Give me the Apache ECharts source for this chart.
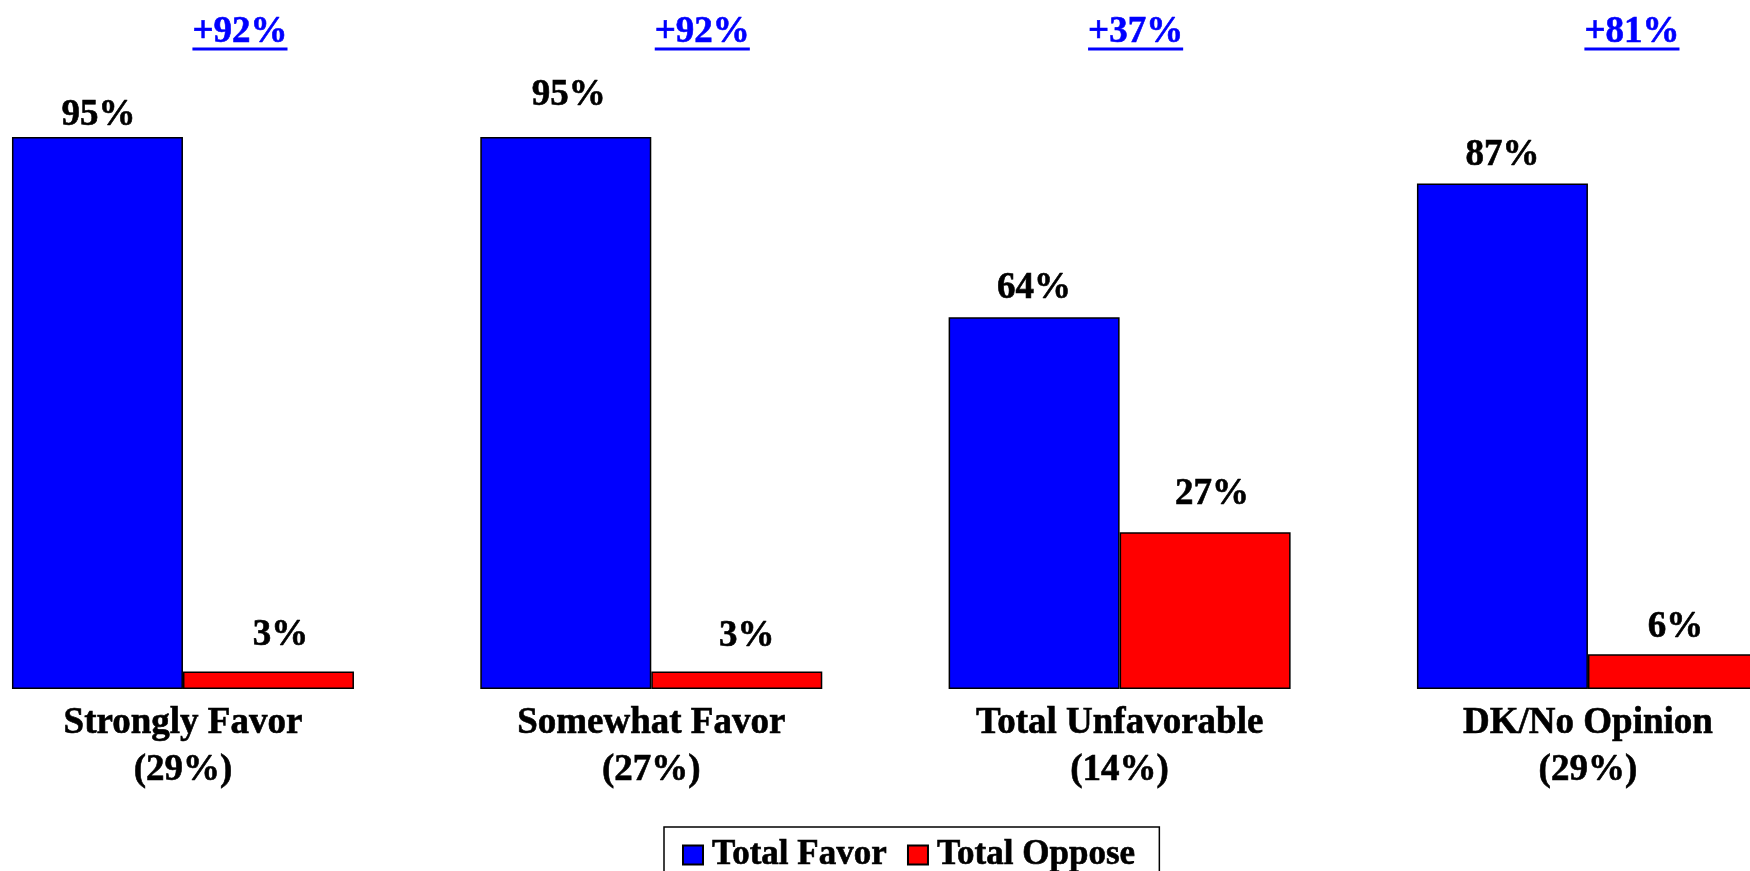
<!DOCTYPE html>
<html>
<head>
<meta charset="utf-8">
<title>Total Favor vs Total Oppose</title>
<script src="https://cdn.jsdelivr.net/npm/echarts@6/dist/echarts.min.js"></script>
<style>
  html, body { margin: 0; padding: 0; background: #ffffff; }
  #chart { width: 1750px; height: 871px; overflow: hidden; }
</style>
</head>
<body>
<div id="chart"></div>
<script>
// Survey groups and their share of respondents
const categories = ['Strongly Favor', 'Somewhat Favor', 'Total Unfavorable', 'DK/No Opinion'];
const groupShares = [29, 27, 14, 29];

// Percent favoring / opposing within each group
const totalFavor = [95, 95, 64, 87];
const totalOppose = [3, 3, 27, 6];

// Label placement tweaks (distance above bar, horizontal nudge)
const favorLabelDistance = [3, 23, 10, 9];
const favorLabelShift = [1, 3, 0, 0];
const opposeLabelDistance = [17, 16, 19, 8];
const opposeLabelShift = [12, 10, 7, 2];
// Horizontal nudge of the net-margin headline over each group
const netLabelShift = [57, 51, 16, 44];

const FONT = "'Liberation Serif', 'Times New Roman', serif";
const BLUE = '#0000FF';
const RED = '#FF0000';
const LABEL_SIZE = 37;

const netValues = totalFavor.map((v, i) => v - totalOppose[i]);
const netText = netValues.map(v => (v >= 0 ? '+' : '') + v + '%');

// Width of the headline text, used for its underline
const measureCtx = document.createElement('canvas').getContext('2d');
measureCtx.font = 'bold ' + LABEL_SIZE + 'px ' + FONT;

function barData(values, distances, shifts) {
  return values.map((v, i) => ({
    value: v,
    label: { distance: distances[i], offset: [shifts[i], 0] }
  }));
}

const labelStyle = {
  show: true,
  position: 'top',
  formatter: '{c}%',
  color: '#000000',
  fontFamily: FONT,
  fontWeight: 'bold',
  fontSize: LABEL_SIZE,
  lineHeight: 38,
  textBorderColor: '#000000',
  textBorderWidth: 0.6
};

const chart = echarts.init(document.getElementById('chart'), null, { renderer: 'canvas' });

chart.setOption({
  animation: false,
  backgroundColor: '#ffffff',
  grid: {
    left: -51.2,
    right: -72.1,
    top: 108,
    bottom: 182,
    containLabel: false,
    outerBoundsMode: 'none'
  },
  legend: {
    data: ['Total Favor', 'Total Oppose'],
    left: 664,
    top: 827,
    orient: 'horizontal',
    borderColor: '#000000',
    borderWidth: 1.5,
    padding: [9, 24, 6, 18],
    itemWidth: 20,
    itemHeight: 19,
    itemGap: 20,
    icon: 'rect',
    textStyle: {
      color: '#000000',
      fontFamily: FONT,
      fontWeight: 'bold',
      fontSize: 35,
      lineHeight: 38,
      padding: [0, 0, 0, 4],
      textBorderColor: '#000000',
      textBorderWidth: 0.6
    }
  },
  xAxis: {
    type: 'category',
    data: categories,
    axisLine: { show: false },
    axisTick: { show: false },
    splitLine: { show: false },
    axisLabel: {
      interval: 0,
      margin: 11,
      color: '#000000',
      fontFamily: FONT,
      fontWeight: 'bold',
      fontSize: LABEL_SIZE,
      lineHeight: 47,
      textBorderColor: '#000000',
      textBorderWidth: 0.6,
      formatter: (name, idx) => name + '\n(' + groupShares[idx] + '%)'
    }
  },
  yAxis: {
    type: 'value',
    min: 0,
    max: 100,
    show: false,
    splitLine: { show: false }
  },
  series: [
    {
      name: 'Total Favor',
      type: 'bar',
      barWidth: 171,
      barGap: '0%',
      data: barData(totalFavor, favorLabelDistance, favorLabelShift),
      itemStyle: { color: BLUE, borderColor: '#000000', borderWidth: 1.5 },
      label: labelStyle,
      emphasis: { disabled: true }
    },
    {
      name: 'Total Oppose',
      type: 'bar',
      barWidth: 171,
      barGap: '0%',
      data: barData(totalOppose, opposeLabelDistance, opposeLabelShift),
      itemStyle: { color: RED, borderColor: '#000000', borderWidth: 1.5 },
      label: labelStyle,
      emphasis: { disabled: true }
    },
    {
      // Net margin (favor minus oppose), underlined headline above each group
      name: 'Net',
      type: 'custom',
      clip: false,
      silent: true,
      data: netValues.map((v, i) => [i, 113]),
      renderItem: function (params, api) {
        const i = params.dataIndex;
        const pt = api.coord([api.value(0), api.value(1)]);
        const x = pt[0] + netLabelShift[i];
        const y = pt[1];
        const txt = netText[i];
        const w = measureCtx.measureText(txt).width;
        return {
          type: 'group',
          children: [
            {
              type: 'text',
              style: {
                x: x,
                y: y,
                text: txt,
                fill: BLUE,
                stroke: BLUE,
                lineWidth: 0.6,
                font: 'bold ' + LABEL_SIZE + 'px ' + FONT,
                align: 'center',
                verticalAlign: 'middle'
              }
            },
            {
              type: 'rect',
              shape: { x: x - w / 2, y: y + 15, width: w, height: 3 },
              style: { fill: BLUE }
            }
          ]
        };
      }
    }
  ]
});
</script>
</body>
</html>
